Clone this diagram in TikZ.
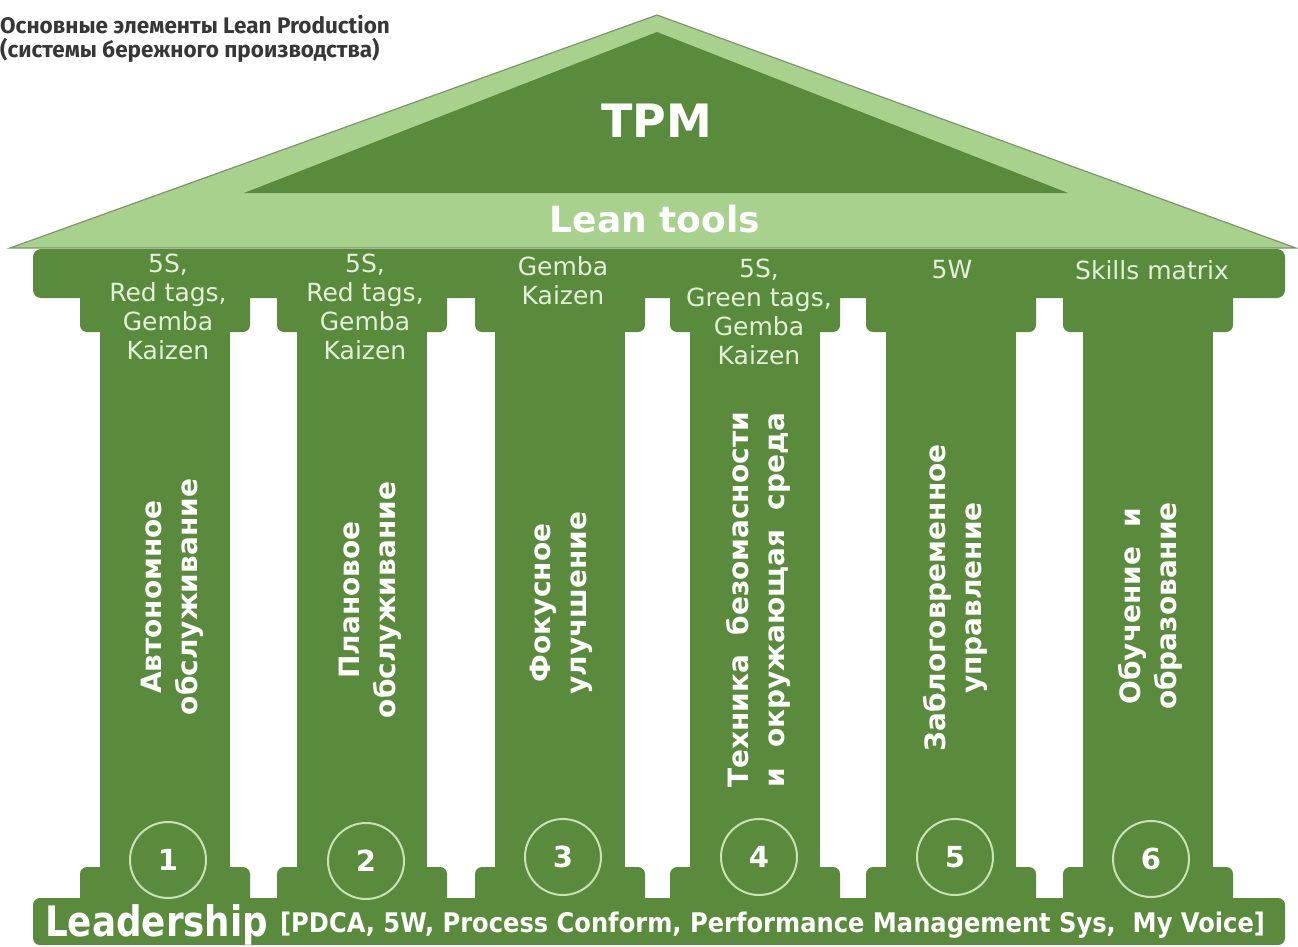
\documentclass[tikz,border=0pt]{standalone}
\usepackage{fontspec}
\setmainfont{DejaVu Sans}
\newfontfamily\titlefont{Fira Sans}
\definecolor{dkg}{RGB}{90,138,60}
\definecolor{roofl}{RGB}{169,209,142}
\definecolor{roofline}{RGB}{125,150,105}
\definecolor{captxt}{RGB}{226,240,217}
\definecolor{ring}{RGB}{200,226,182}
\definecolor{titlecol}{RGB}{55,55,55}
\tikzset{
  part/.style={fill=dkg, draw=none},
  captext/.style={anchor=north, inner sep=0pt, align=center, text=captxt,
     font=\fontsize{25}{29}\selectfont},
  vtext/.style={rotate=90, inner sep=0pt, align=center, text=white,
     font=\bfseries\fontsize{28}{36}\selectfont},
  numring/.style={circle, draw=ring, line width=2pt, minimum size=76pt, inner sep=0pt,
     text=white, font=\bfseries\fontsize{29}{32}\selectfont},
}
\begin{document}
\begin{tikzpicture}[x=1pt,y=-1pt]
\useasboundingbox (0,0) rectangle (1298,947);
% roof
\filldraw[fill=roofl, draw=roofline, line width=1.2pt] (10,248) -- (657,15) -- (1296,248) -- cycle;
\fill[dkg] (244,193) -- (657,32) -- (1068,193) -- cycle;
\node[text=white, font=\bfseries\fontsize{46}{50}\selectfont, inner sep=0pt] (tpm) at (657,121) {TPM};
\node[text=white, font=\bfseries\fontsize{36}{40}\selectfont, inner sep=0pt] (lt) at (655,219) {Lean tools};
% entablature
\fill[part, rounded corners=8pt] (33,249) rectangle (1285,298);
% columns
\foreach \L in {100,297,495,690,886,1083}{
  \fill[part, rounded corners=7pt] (\L-20,280) rectangle (\L+150,332);
  \fill[part] (\L,320) rectangle (\L+130,880);
  \fill[part, rounded corners=7pt] (\L-20,867) rectangle (\L+150,920);
}
% base
\fill[part, rounded corners=7pt] (33,898) rectangle (1285,945);
% capital texts
\node[captext] (c1) at (168,254) {5S,\\Red tags,\\Gemba\\Kaizen};
\node[captext] (c2) at (365,254) {5S,\\Red tags,\\Gemba\\Kaizen};
\node[captext] (c3) at (563,256) {Gemba\\Kaizen};
\node[captext] (c4) at (759,259) {5S,\\Green tags,\\Gemba\\Kaizen};
\node[captext] (c5) at (952,260) {5W};
\node[captext] (c6) at (1152,260) {Skills matrix};
% vertical texts
\node[vtext] (v1) at (172,597) {Автономное\\обслуживание};
\node[vtext] (v2) at (370,600) {Плановое\\обслуживание};
\node[vtext] (v3) at (561,603) {Фокусное\\улучшение};
\node[vtext] (v4) at (758,600) {Техника\ \ безомасности\\и\ \ окружающая\ \ среда};
\node[vtext] (v5) at (955,598) {Заблоговременное\\управление};
\node[vtext] (v6) at (1150,606) {Обучение\ \ и\\образование};
% number rings
\node[numring] (n1) at (168,860) {1};
\node[numring] (n2) at (366,861) {2};
\node[numring] (n3) at (563,857) {3};
\node[numring] (n4) at (759,857) {4};
\node[numring] (n5) at (955,857) {5};
\node[numring] (n6) at (1151,859) {6};
% leadership
\node[anchor=base west, inner sep=0pt, text=white] (lead) at (45,936)
  {\scalebox{0.85}[1]{\bfseries\fontsize{42}{46}\selectfont Leadership}};
\node[anchor=base west, inner sep=0pt, text=white] (leadtools) at (280,932)
  {\scalebox{0.895}[1]{\bfseries\fontsize{27}{30}\selectfont [PDCA, 5W, Process Conform, Performance Management Sys,\ \ My Voice]}};
% title
\node[anchor=base west, inner sep=0pt, align=left, text=titlecol,
  font=\titlefont\bfseries\fontsize{22.5}{24}\selectfont] (title) at (0,58)
  {Основные элементы Lean Production\\(системы бережного производства)};
\end{tikzpicture}
\end{document}
